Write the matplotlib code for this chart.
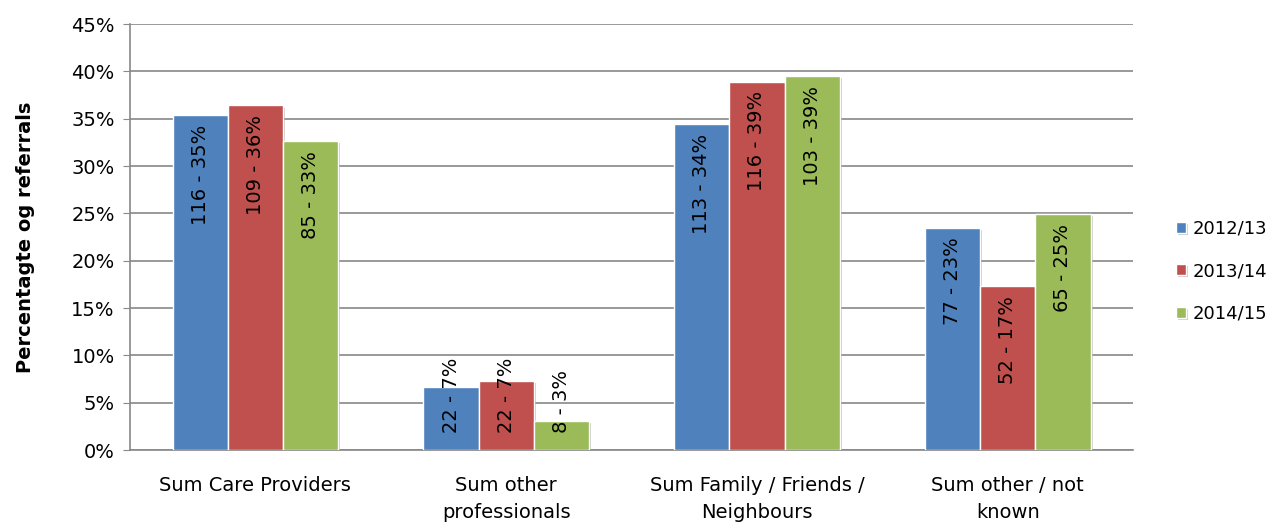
import matplotlib.pyplot as plt
import matplotlib.patheffects as pe
import numpy as np

plt.rcParams['font.family'] = ['DejaVu Sans']

# Data
categories = ['Sum Care Providers', 'Sum other\nprofessionals',
              'Sum Family / Friends /\nNeighbours', 'Sum other / not\nknown']
years = ['2012/13', '2013/14', '2014/15']
pct_2012 = [35.4, 6.7, 34.4, 23.5]
pct_2013 = [36.4, 7.3, 38.9, 17.3]
pct_2014 = [32.6, 3.1, 39.5, 24.9]
labels_2012 = ['116 - 35%', '22 - 7%', '113 - 34%', '77 - 23%']
labels_2013 = ['109 - 36%', '22 - 7%', '116 - 39%', '52 - 17%']
labels_2014 = ['85 - 33%', '8 - 3%', '103 - 39%', '65 - 25%']

colors = ['#4F81BD', '#C0504D', '#9BBB59']
fs = 14

fig = plt.figure(figsize=(12.78, 5.29), dpi=100)
ax = fig.add_axes([0.1017, 0.1493, 0.785, 0.8053])

x = np.arange(len(categories))
width = 0.22
series = [pct_2012, pct_2013, pct_2014]
series_labels = [labels_2012, labels_2013, labels_2014]
shadow = [pe.SimplePatchShadow(offset=(1.5, -1.5), shadow_rgbFace='#999999', alpha=0.5), pe.Normal()]

for i, (vals, labs) in enumerate(zip(series, series_labels)):
    pos = x + (i - 1) * width
    bars = ax.bar(pos, vals, width, color=colors[i], edgecolor='white',
                  linewidth=1.0, label=years[i], zorder=3)
    for b in bars:
        b.set_path_effects(shadow)
    for p, v, t in zip(pos, vals, labs):
        if v > 15:
            ax.text(p, v - 1.0, t, rotation=90, ha='center', va='top',
                    fontsize=fs, color='black', zorder=4)
        else:
            ax.text(p, 1.8, t, rotation=90, ha='center', va='bottom',
                    fontsize=fs, color='black', zorder=4)

ax.set_xlim(-0.5, len(categories) - 0.5)
ax.set_ylim(0, 45)
ax.set_yticks(np.arange(0, 46, 5))
ax.set_yticklabels([f'{v}%' for v in range(0, 46, 5)], fontsize=fs)
ax.set_xticks(x)
ax.set_xticklabels(categories, fontsize=fs, linespacing=1.5)
ax.tick_params(axis='x', length=0, pad=19)
ax.tick_params(axis='y', length=5, color='#888888', pad=6)

ax.grid(axis='y', color='#888888', linewidth=1.2, zorder=0)
for s in ['top', 'right']:
    ax.spines[s].set_visible(False)
ax.spines['left'].set_color('#888888')
ax.spines['bottom'].set_color('#888888')
ax.spines['left'].set_linewidth(1.2)
ax.spines['bottom'].set_linewidth(1.2)

ax.set_ylabel('Percentagte og referrals', fontsize=fs, fontweight='bold', labelpad=26)

ax.legend(loc='center left', bbox_to_anchor=(1.043, 0.42), frameon=False,
          fontsize=13, handlelength=0.55, handleheight=0.55, handletextpad=0.35,
          labelspacing=1.35, borderpad=0, borderaxespad=0)

fig.savefig('out.png', dpi=100)
